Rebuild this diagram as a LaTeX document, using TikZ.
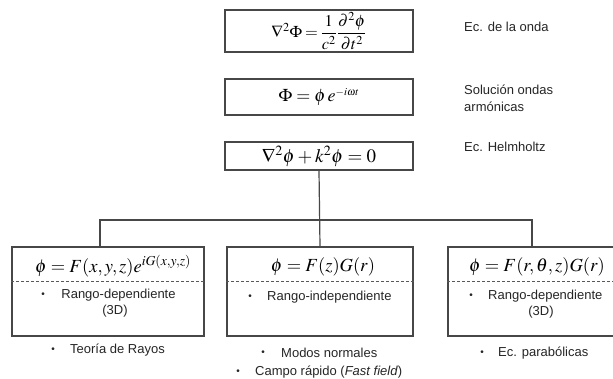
\documentclass[tikz,border=0pt]{standalone}
\usepackage{mathptmx}
\usepackage[no-math]{fontspec}
\newfontfamily\labelfont{Liberation Sans}
\usetikzlibrary{calc}

\tikzset{
  ln/.style={draw=black!72, line width=1.2pt},
  eqbox/.style={ln, rectangle, inner sep=0pt, minimum width=188pt, font=\fontsize{19}{22}\selectfont},
  modbox/.style={ln, rectangle, inner sep=0pt, minimum height=89pt},
  dashln/.style={draw=black!65, line width=1pt, dash pattern=on 3pt off 2pt},
  eq/.style={inner sep=0pt, font=\fontsize{18.5}{22}\selectfont},
  lbl/.style={inner sep=0pt, text=black!85, font=\labelfont\fontsize{13}{17}\selectfont},
  bul/.style={inner sep=0pt, text=black!85, font=\labelfont\fontsize{10}{12}\selectfont}
}

\begin{document}
\begin{tikzpicture}[x=1pt, y=-1pt]
  \useasboundingbox (0,0) rectangle (613,378);
  \clip (0,0) rectangle (613,378);
  \fill[white] (0,0) rectangle (613,378);

  % equation chain
  \node[eqbox, minimum height=42pt, font=\fontsize{16.5}{20}\selectfont] (w) at (319,31)
    {$\thickmuskip=3mu\displaystyle \nabla^2\Phi=\frac{1}{c^2}\frac{\partial^2\phi}{\partial t^2}$};
  \node[eqbox, minimum height=36pt, font=\fontsize{18}{22}\selectfont] (s) at (319,97)
    {\raisebox{3pt}{$\Phi=\phi\, e^{\scriptscriptstyle -i\omega t}$}};
  \node[eqbox, minimum height=28pt] (h) at (319,156)
    {$\nabla^2\phi+k^2\phi=0$};

  \node[lbl, anchor=west] (wl) at (464,27) {Ec. de la onda};
  \node[lbl, anchor=west, align=left] (sl) at (464,98.5) {Solución ondas\\armónicas};
  \node[lbl, anchor=west] (hl) at (464,147) {Ec. Helmholtz};

  % three model boxes
  \node[modbox, minimum width=192pt] (l) at (108,291.5) {};
  \node[modbox, minimum width=186pt] (m) at (320,291.5) {};
  \node[modbox, minimum width=192pt] (r) at (544,291.5) {};

  \foreach \b in {l,m,r}
    \draw[dashln] ($(\b.north west)!0.393!(\b.south west)$) -- ($(\b.north east)!0.393!(\b.south east)$);

  % branching connectors
  \coordinate (jl) at (100,220);
  \coordinate (jr) at (532,220);
  \draw[ln] (h.south) -- (m.north);
  \draw[ln] (jl |- l.north) -- (jl) -- (jr) -- (jr |- r.north);

  % separated solutions
  \node[eq] (le) at (113,266) {$\phi=F(x,y,z)e^{iG(x,y,z)}$};
  \node[eq] (me) at (323,267) {$\phi=F(z)G(r)$};
  \node[eq] (re) at (537,267) {$\phi=F(r,\theta,z)G(r)$};

  % box contents
  \node[bul] (lb) at (43,295) {•};
  \node[lbl] (lt) at (118.5,295) {Rango-dependiente};
  \node[lbl] (lt2) at (115,311) {(3D)};

  \node[bul] (mb) at (250,297) {•};
  \node[lbl, anchor=west] (mt) at (267,297) {Rango-independiente};

  \node[bul] (rb) at (471,296) {•};
  \node[lbl, anchor=west] (rt) at (488,296) {Rango-dependiente};
  \node[lbl] (rt2) at (541,312) {(3D)};

  % methods below
  \node[bul] (lmb) at (53,350) {•};
  \node[lbl, anchor=west] (lm) at (70,350) {Teoría de Rayos};

  \node[bul] (mmb) at (263,353) {•};
  \node[lbl, anchor=west] (mm) at (281,353) {Modos normales};
  \node[bul] (mfb) at (238,372) {•};
  \node[lbl, anchor=west] (mf) at (255,372) {Campo rápido (\textit{Fast field})};

  \node[bul] (rmb) at (482,353) {•};
  \node[lbl, anchor=west] (rm) at (498,353) {Ec. parabólicas};
\end{tikzpicture}
\end{document}
